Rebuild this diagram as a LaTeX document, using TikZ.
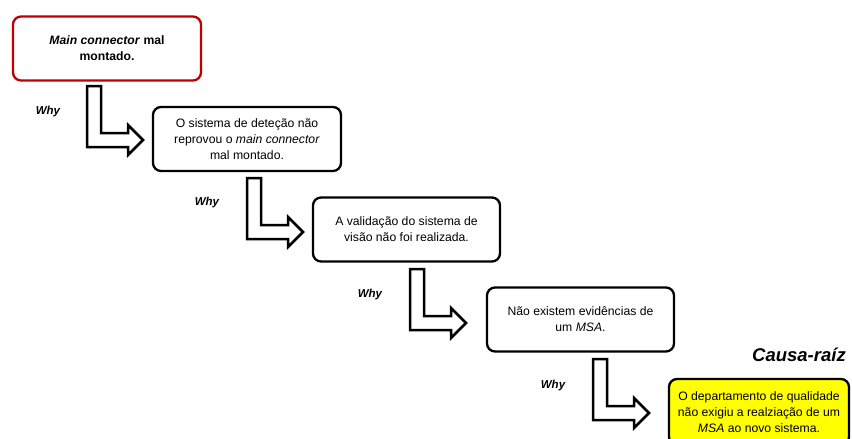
\documentclass[tikz,border=0pt]{standalone}
\usepackage{fontspec}
\setmainfont{Liberation Sans}
\definecolor{rootred}{RGB}{192,0,0}
\definecolor{rootyellow}{RGB}{255,255,0}
\begin{document}
\begin{tikzpicture}[x=1pt,y=-1pt,
  stepbox/.style={draw=black, line width=2.3pt, rounded corners=8pt, fill=white,
    align=center, minimum width=188pt, minimum height=64pt, inner sep=0pt,
    font=\fontsize{12.2}{15.8}\selectfont},
  whylabel/.style={font=\fontsize{11.5}{13}\selectfont\bfseries\itshape},
  whyarrow/.pic={
    \draw[line width=2.5pt, fill=white, line join=miter]
      (0,0) -- (14,0) -- (14,47) -- (41,47) -- (41,39) -- (56,54)
      -- (41,69) -- (41,61) -- (0,61) -- cycle;
  }]
\useasboundingbox (0,0) rectangle (852,439);

% problem chain
\node[stepbox, draw=rootred] (b1) at (107,48.5)
  {\textbf{\textit{Main connector} mal}\\\textbf{montado.}};
\node[stepbox] (b2) at (247,139)
  {O sistema de deteção não\\reprovou o \textit{main connector}\\mal montado.};
\node[stepbox, minimum width=187pt] (b3) at (406.5,229.5)
  {A validação do sistema de\\visão não foi realizada.};
\node[stepbox, minimum width=187pt] (b4) at (580.5,319.5)
  {Não existem evidências de\\um \textit{MSA}.};
\node[stepbox, fill=rootyellow, minimum width=180pt, minimum height=66pt] (b5) at (759,412)
  {O departamento de qualidade\\não exigiu a realziação de um\\\textit{MSA} ao novo sistema.};

% block arrows between the steps
\pic at (87,86) {whyarrow};
\pic at (247,178) {whyarrow};
\pic at (410,269) {whyarrow};
\pic at (593,359) {whyarrow};

% labels
\node[whylabel] (w1) at (48,112) {Why};
\node[whylabel] (w2) at (207,203) {Why};
\node[whylabel] (w3) at (370,295) {Why};
\node[whylabel] (w4) at (553,386) {Why};
\node[font=\fontsize{18.5}{20}\selectfont\bfseries\itshape] (root) at (799,355) {Causa-raíz};
\end{tikzpicture}
\end{document}
